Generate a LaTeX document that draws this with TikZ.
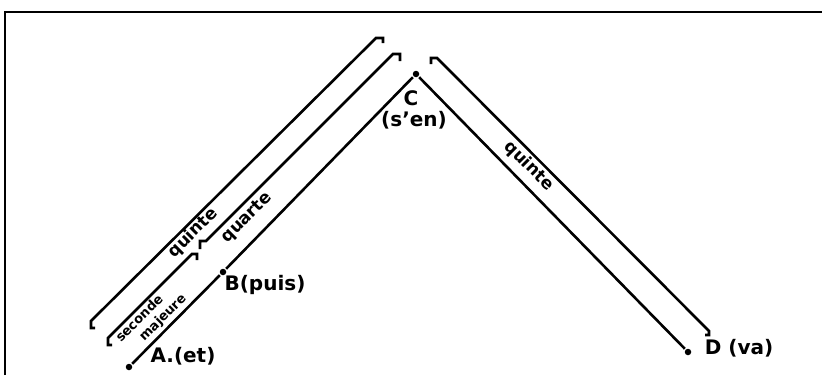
\documentclass[tikz,border=0pt]{standalone}
\usepackage{fontspec}
\setmainfont{DejaVu Sans}
\usetikzlibrary{calc}

\begin{document}
\begin{tikzpicture}[x=1pt,y=-1pt,line width=2.6pt,
  dot/.style={circle,fill,inner sep=0pt,minimum size=6.5pt},
  pointlabel/.style={font=\bfseries\fontsize{20}{22}\selectfont,inner sep=0pt},
  interval/.style={font=\bfseries\fontsize{17}{19}\selectfont,inner sep=0pt},
  smallinterval/.style={font=\bfseries\fontsize{13}{15}\selectfont,inner sep=0pt}]
\useasboundingbox (0,0) rectangle (822,375);
% frame, open at right and bottom
\draw[line width=2.6pt] (5,375) -- (5,12) -- (822,12);
% the four points of the melody
\node[dot] (A) at (129,367) {};
\node[dot] (B) at (223,272) {};
\node[dot] (C) at (416,74) {};
\node[dot] (D) at (688,352) {};
\draw (A) -- (B) -- (C) -- (D);
\node[pointlabel] (labA) at (183,356) {A.(et)};
\node[pointlabel] (labB) at (265,285) {B(puis)};
\node[pointlabel] (labC) at (411,98) {C};
\node[pointlabel] (labCen) at (414,120) {(s'en)};
\node[pointlabel] (labD) at (739,348) {D (va)};
% interval brackets
\coordinate (quinteL1) at (91,321);
\coordinate (quinteL2) at (376,38);
\coordinate (secondeL1) at (108,338);
\coordinate (secondeL2) at (192,254);
\coordinate (quarteL1) at (206,241);
\coordinate (quarteL2) at (393,54);
\coordinate (quinteR1) at (437,58);
\coordinate (quinteR2) at (709,331);
\draw ($(quinteL1)+(4,7)$) -| (quinteL1) -- (quinteL2) -| ++(7,5);
\draw ($(secondeL1)+(4,7)$) -| (secondeL1) -- (secondeL2) -| ++(5,6);
\draw ($(quarteL1)+(-6,8)$) |- (quarteL1) -- (quarteL2) -| ++(7,7);
\draw ($(quinteR1)+(-6,6)$) |- (quinteR1) -- (quinteR2) |- ++(-4,4);
\node[interval,rotate=45] (quinteL) at (193,233) {quinte};
\node[interval,rotate=45] (quarte) at (247,218) {quarte};
\node[smallinterval,rotate=45] (seconde) at (139,318) {seconde};
\node[smallinterval,rotate=45] (majeure) at (163,318) {majeure};
\node[interval,rotate=-45] (quinteR) at (529,166) {quinte};
\end{tikzpicture}
\end{document}
